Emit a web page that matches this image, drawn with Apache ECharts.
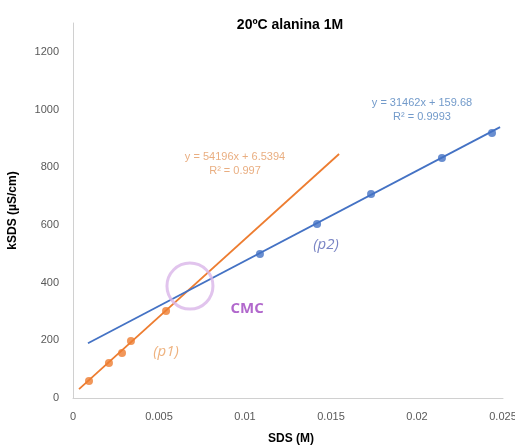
<!DOCTYPE html>
<html>
<head>
<meta charset="utf-8">
<script src="https://cdn.jsdelivr.net/npm/echarts@6/dist/echarts.min.js"></script>
<style>
  html, body { margin: 0; padding: 0; background: #fff; }
  #chart { width: 515px; height: 445px; }
</style>
</head>
<body>
<div id="chart"></div>
<script>
// measured points, SDS (M) vs kSDS (µS/cm)
var p1Points = [[0.00093, 59], [0.00209, 121], [0.00285, 156], [0.00337, 198], [0.00541, 302]];
var p2Points = [[0.01087, 499], [0.01419, 603], [0.01733, 707], [0.02145, 832], [0.02436, 919]];

// trendline ends as drawn in the sheet
var p1Trend = [[0.00035, 31], [0.01547, 846]];
var p2Trend = [[0.00087, 190], [0.02483, 939]];

var cmcPoint = [0.0068, 388];

var p1Eq = 'y = 54196x + 6.5394\nR² = 0.997';
var p2Eq = 'y = 31462x + 159.68\nR² = 0.9993';

var orange = '#ED7D31';
var blue = '#4472C4';

var chart = echarts.init(document.getElementById('chart'));

function note(pos, text, style) {
    return {
        value: pos,
        label: Object.assign({show: true, position: 'inside', formatter: text}, style)
    };
}

var notes = [
    note([0.00942, 811], p1Eq, {color: '#E39A62', fontSize: 11, lineHeight: 14, fontFamily: 'Liberation Sans'}),
    note([0.02029, 998], p2Eq, {color: '#4F81BD', fontSize: 11, lineHeight: 14, fontFamily: 'Liberation Sans'}),
    note([0.01012, 308], 'CMC', {color: '#9E42BF', fontSize: 15, fontWeight: 'bold', fontFamily: 'Open Sans'}),
    note([0.00541, 159], '(p1)', {color: '#EA9F5F', fontSize: 15, fontStyle: 'italic', fontFamily: 'Open Sans'}),
    note([0.01471, 530], '(p2)', {color: '#5865B5', fontSize: 15, fontStyle: 'italic', fontFamily: 'Open Sans'})
];

var option = {
    animation: false,
    title: {
        text: '20ºC alanina 1M',
        left: 285,
        top: 13,
        textAlign: 'center',
        textStyle: {fontSize: 14, fontWeight: 'bold', color: '#000', fontFamily: 'Liberation Sans'}
    },
    grid: {left: 73, right: 12, top: 23, bottom: 47, containLabel: false, outerBoundsMode: 'none'},
    xAxis: {
        type: 'value',
        min: 0,
        max: 0.025,
        interval: 0.005,
        name: 'SDS (M)',
        nameLocation: 'middle',
        nameGap: 35,
        nameTextStyle: {fontSize: 12, fontWeight: 'bold', color: '#000', fontFamily: 'Liberation Sans', padding: [0, 0, 0, 6]},
        axisLine: {lineStyle: {color: '#D0D0D0'}},
        axisTick: {show: false},
        splitLine: {show: false},
        axisLabel: {color: '#595959', fontSize: 11, margin: 13, fontFamily: 'Liberation Sans',
            formatter: function (v) { return v === 0 ? '0' : String(+v.toFixed(3)); }}
    },
    yAxis: {
        type: 'value',
        min: 0,
        max: 1300,
        interval: 200,
        name: 'kSDS (µS/cm)',
        nameLocation: 'middle',
        nameGap: 54,
        nameTextStyle: {fontSize: 12, fontWeight: 'bold', color: '#000', fontFamily: 'Liberation Sans'},
        axisLine: {show: true, lineStyle: {color: '#D0D0D0'}},
        axisTick: {show: false},
        splitLine: {show: false},
        axisLabel: {color: '#595959', fontSize: 11, margin: 14, fontFamily: 'Liberation Sans',
            formatter: function (v) { return v % 200 === 0 ? String(v) : ''; }}
    },
    series: [
        {
            type: 'line', data: p1Trend, symbol: 'none',
            lineStyle: {color: orange, width: 1.8}, z: 2
        },
        {
            type: 'line', data: p2Trend, symbol: 'none',
            lineStyle: {color: blue, width: 1.8}, z: 2
        },
        {
            type: 'scatter', data: p1Points, symbolSize: 8,
            itemStyle: {color: orange}, z: 3
        },
        {
            type: 'scatter', data: p2Points, symbolSize: 8,
            itemStyle: {color: blue}, z: 3
        },
        {
            type: 'scatter', data: [cmcPoint], symbolSize: 46,
            itemStyle: {color: 'rgba(0,0,0,0)', borderColor: '#D9B5E8', borderWidth: 3}, z: 4
        },
        {
            type: 'scatter', data: notes, symbolSize: 0, z: 5, silent: true
        }
    ]
};

chart.setOption(option);
</script>
</body>
</html>
